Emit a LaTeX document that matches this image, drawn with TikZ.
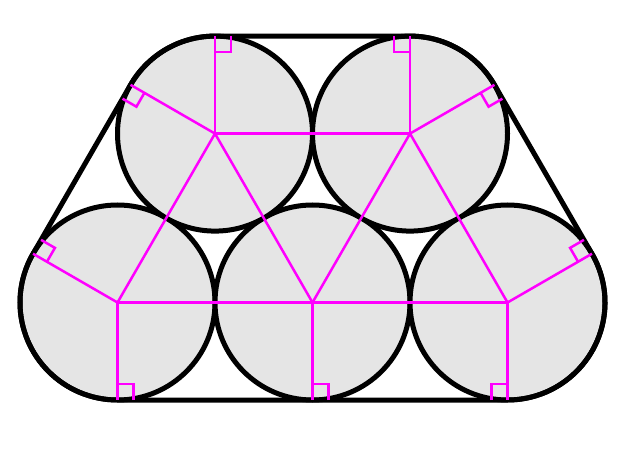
\documentclass[tikz,border=0pt]{standalone}
\usepackage{tikz}
\usetikzlibrary{calc}
\definecolor{ballgray}{RGB}{229,229,229}
\definecolor{linkpink}{RGB}{255,0,255}

\tikzset{
  ball/.style={draw=black,line width=5pt,fill=ballgray},
  belt/.style={draw=black,line width=5pt,line join=round},
  link/.style={draw=linkpink,line width=2.5pt}
}
\newcommand{\rad}{97.5}
\newcommand{\sq}{16}

\begin{document}
\begin{tikzpicture}[x=1pt,y=1pt]
      \useasboundingbox (0,0) rectangle (636,460);

      % centres of the five rolls
      \coordinate (bl) at (117.5,157.5);
      \coordinate (bm) at (312.5,157.5);
      \coordinate (br) at (507.5,157.5);
      \coordinate (tl) at (215,326.4);
      \coordinate (tr) at (410,326.4);

      \draw[ball] (bl) circle[radius=\rad];
      \draw[ball] (bm) circle[radius=\rad];
      \draw[ball] (br) circle[radius=\rad];
      \draw[ball] (tl) circle[radius=\rad];
      \draw[ball] (tr) circle[radius=\rad];

      % the band round them
      \draw[belt] ($(tl)+(90:\rad)$) -- ($(tr)+(90:\rad)$)
        arc[start angle=90,end angle=30,radius=\rad] -- ($(br)+(30:\rad)$)
        arc[start angle=30,end angle=-90,radius=\rad] -- ($(bl)+(-90:\rad)$)
        arc[start angle=270,end angle=150,radius=\rad] -- ($(tl)+(150:\rad)$)
        arc[start angle=150,end angle=90,radius=\rad] -- cycle;

      % centre lines
      \draw[link] (bl) -- (br);
      \draw[link] (tl) -- (tr);
      \draw[link] (bl) -- (tl);
      \draw[link] (tl) -- (bm);
      \draw[link] (bm) -- (tr);
      \draw[link] (tr) -- (br);

      % radii and right angles
      \foreach \c/\a/\b in {tl/90/0,tl/150/240,bl/150/60,bl/270/0,bm/270/0,
                            br/270/180,br/30/120,tr/30/300,tr/90/180}{
        \draw[link] (\c) -- ($(\c)+(\a:\rad)$);
        \draw[link] ($(\c)+(\a:\rad)+(\b:\sq)$) -- ($(\c)+(\a:{\rad-\sq})+(\b:\sq)$)
          -- ($(\c)+(\a:{\rad-\sq})$);
      }
\end{tikzpicture}
\end{document}
